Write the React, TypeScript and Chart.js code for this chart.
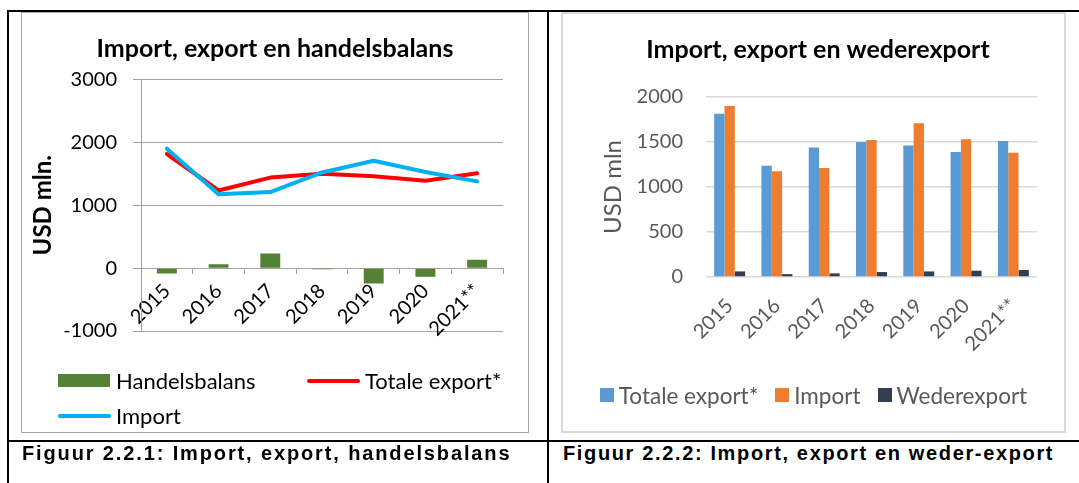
import React, { useEffect, useRef } from "react";
import { Chart, registerables } from "chart.js";

Chart.register(...registerables);

// ---- data ----
const years = ["2015", "2016", "2017", "2018", "2019", "2020", "2021**"];
const totaleExport = [1815, 1235, 1440, 1500, 1460, 1390, 1510];
const importValues = [1900, 1175, 1210, 1522, 1708, 1530, 1380];
const handelsbalans = [-85, 60, 232, -18, -245, -138, 135];
const wederexport = [62, 32, 40, 55, 62, 70, 78];

const leftYRange = [-1000, 3000];
const leftYStep = 1000;
const rightYRange = [0, 2000];
const rightYStep = 500;

const seriesNames = ["Handelsbalans", "Totale export*", "Import", "Wederexport"];
const leftTitle = "Import, export en handelsbalans";
const rightTitle = "Import, export en wederexport";
const leftAxisTitle = "USD mln.";
const rightAxisTitle = "USD mln";
const leftCaption = "Figuur 2.2.1: Import, export, handelsbalans";
const rightCaption = "Figuur 2.2.2: Import, export en weder-export";

// ---- styles ----
const FONT = "Lato, 'Open Sans', sans-serif";
const GREEN = "#548235";
const RED = "#ff0000";
const CYAN = "#00b0f0";
const BLUE = "#5b9bd5";
const ORANGE = "#ed7d31";
const DARK = "#333f50";

const plainNumber = (v: any) => String(v);

function LeftChart() {
  const ref = useRef<HTMLCanvasElement>(null);
  useEffect(() => {
    const chart = new Chart(ref.current as HTMLCanvasElement, {
      type: "bar",
      data: {
        labels: years,
        datasets: [
          {
            type: "line",
            label: seriesNames[2],
            data: importValues,
            borderColor: CYAN,
            backgroundColor: CYAN,
            borderWidth: 4,
            pointRadius: 0,
            tension: 0,
            borderJoinStyle: "round",
            borderCapStyle: "round",
            order: 0,
          },
          {
            type: "line",
            label: seriesNames[1],
            data: totaleExport,
            borderColor: RED,
            backgroundColor: RED,
            borderWidth: 4,
            pointRadius: 0,
            tension: 0,
            borderJoinStyle: "round",
            borderCapStyle: "round",
            order: 1,
          },
          {
            type: "bar",
            label: seriesNames[0],
            data: handelsbalans,
            backgroundColor: GREEN,
            categoryPercentage: 0.385,
            barPercentage: 1,
            order: 2,
          },
        ] as any,
      },
      options: {
        responsive: false,
        animation: false,
        layout: { padding: { left: 25, right: 25, top: 0, bottom: 101 } },
        plugins: {
          legend: { display: false },
          tooltip: { enabled: false },
          title: {
            display: true,
            text: leftTitle,
            color: "#000",
            font: { family: FONT, size: 25, weight: "bold" },
            padding: { top: 22, bottom: 15.5 },
          },
        },
        scales: {
          x: {
            position: { y: 0 } as any,
            offset: true,
            grid: {
              display: true,
              drawOnChartArea: false,
              drawTicks: true,
              tickLength: 5,
              color: "#a0a0a0",
              offset: true,
            },
            border: { display: true, color: "#a0a0a0" },
            ticks: {
              color: "#000",
              font: { family: FONT, size: 20 },
              minRotation: 45,
              maxRotation: 45,
              autoSkip: false,
              padding: 6,
            },
          },
          y: {
            min: leftYRange[0],
            max: leftYRange[1],
            ticks: {
              stepSize: leftYStep,
              color: "#000",
              font: { family: FONT, size: 20 },
              padding: 16,
              callback: plainNumber,
            },
            grid: { color: "#a0a0a0", tickLength: 8 },
            border: { display: true, color: "#a0a0a0" },
            title: {
              display: true,
              text: leftAxisTitle,
              color: "#000",
              font: { family: FONT, size: 24, weight: "bold" },
              padding: { top: -18.4, bottom: 0 },
            },
            afterFit: (scale: any) => {
              scale.width = 94;
            },
          },
        },
      },
    } as any);
    return () => chart.destroy();
  }, []);
  return (
    <canvas
      ref={ref}
      width={506}
      height={420}
      style={{ position: "absolute", left: 22, top: 12, width: 506, height: 420 }}
    />
  );
}

function RightChart() {
  const ref = useRef<HTMLCanvasElement>(null);
  useEffect(() => {
    const chart = new Chart(ref.current as HTMLCanvasElement, {
      type: "bar",
      data: {
        labels: years,
        datasets: [
          { label: seriesNames[1], data: totaleExport, backgroundColor: BLUE },
          { label: seriesNames[2], data: importValues, backgroundColor: ORANGE },
          { label: seriesNames[3], data: wederexport, backgroundColor: DARK },
        ],
      },
      options: {
        responsive: false,
        animation: false,
        datasets: { bar: { categoryPercentage: 0.655, barPercentage: 1 } },
        layout: { padding: { left: 36, right: 27, top: 0, bottom: 74 } },
        plugins: {
          legend: { display: false },
          tooltip: { enabled: false },
          title: {
            display: true,
            text: rightTitle,
            color: "#000",
            font: { family: FONT, size: 25, weight: "bold" },
            padding: { top: 22, bottom: 32 },
          },
        },
        scales: {
          x: {
            grid: { display: false },
            border: { display: false },
            ticks: {
              color: "#595959",
              font: { family: FONT, size: 20 },
              minRotation: 45,
              maxRotation: 45,
              autoSkip: false,
              padding: 9,
            },
            afterFit: (scale: any) => {
              scale.height = 80;
            },
          },
          y: {
            min: rightYRange[0],
            max: rightYRange[1],
            ticks: {
              stepSize: rightYStep,
              color: "#595959",
              font: { family: FONT, size: 20 },
              padding: 23,
              callback: plainNumber,
            },
            grid: { color: "#d9d9d9", lineWidth: 1.5, drawTicks: false },
            border: { display: false },
            title: {
              display: true,
              text: rightAxisTitle,
              color: "#595959",
              font: { family: FONT, size: 24 },
              padding: { top: -0.4, bottom: 0 },
            },
            afterFit: (scale: any) => {
              scale.width = 107;
            },
          },
        },
      },
    } as any);
    return () => chart.destroy();
  }, []);
  return (
    <canvas
      ref={ref}
      width={501}
      height={418}
      style={{ position: "absolute", left: 563, top: 13, width: 501, height: 418 }}
    />
  );
}

function Marker({ kind, color }: { kind: "rect" | "line" | "square"; color: string }) {
  if (kind === "rect")
    return <span style={{ display: "inline-block", width: 52, height: 13, background: color, marginRight: 6 }} />;
  if (kind === "line")
    return (
      <span
        style={{
          display: "inline-block",
          width: 53,
          height: 4,
          borderRadius: 2,
          background: color,
          marginRight: 5,
        }}
      />
    );
  return <span style={{ display: "inline-block", width: 14, height: 14, background: color, marginRight: 5 }} />;
}

export default function App() {
  const leftLegend = [
    { name: seriesNames[0], kind: "rect" as const, color: GREEN },
    { name: seriesNames[1], kind: "line" as const, color: RED },
    { name: seriesNames[2], kind: "line" as const, color: CYAN },
  ];
  const rightLegend = [
    { name: seriesNames[1], color: BLUE },
    { name: seriesNames[2], color: ORANGE },
    { name: seriesNames[3], color: DARK },
  ];
  const captionStyle: React.CSSProperties = {
    position: "absolute",
    top: 443,
    fontFamily: "'Liberation Sans', Arial, sans-serif",
    fontWeight: "bold",
    fontSize: 20,
    lineHeight: "20px",
    whiteSpace: "nowrap",
    color: "#000",
  };
  return (
    <div
      style={{
        position: "absolute",
        left: 0,
        top: 0,
        width: 1079,
        height: 483,
        background: "#fff",
        overflow: "hidden",
      }}
    >
      {/* chart frames */}
      <div
        style={{
          position: "absolute",
          left: 21,
          top: 12,
          width: 506,
          height: 419,
          border: "1px solid #a6a6a6",
        }}
      />
      <div
        style={{
          position: "absolute",
          left: 561,
          top: 12,
          width: 501,
          height: 417,
          border: "2px solid #d9d9d9",
        }}
      />
      <LeftChart />
      <RightChart />

      {/* left legend */}
      <div
        style={{
          position: "absolute",
          left: 58,
          top: 363,
          display: "grid",
          gridTemplateColumns: "249px auto",
          gridAutoRows: "35px",
          fontFamily: FONT,
          fontSize: 22,
          color: "#000",
        }}
      >
        {leftLegend.map((it) => (
          <div key={it.name} style={{ display: "flex", alignItems: "center", whiteSpace: "nowrap" }}>
            <Marker kind={it.kind} color={it.color} />
            <span>{it.name}</span>
          </div>
        ))}
      </div>

      {/* right legend */}
      <div
        style={{
          position: "absolute",
          left: 563,
          top: 383,
          width: 501,
          height: 24,
          display: "flex",
          justifyContent: "center",
          alignItems: "center",
          gap: 17,
          fontFamily: FONT,
          fontSize: 22.5,
          color: "#595959",
        }}
      >
        {rightLegend.map((it) => (
          <div key={it.name} style={{ display: "flex", alignItems: "center", whiteSpace: "nowrap" }}>
            <Marker kind="square" color={it.color} />
            <span>{it.name}</span>
          </div>
        ))}
      </div>

      {/* table lines */}
      <div style={{ position: "absolute", left: 7, top: 10, width: 1072, height: 2, background: "#000" }} />
      <div style={{ position: "absolute", left: 7, top: 10, width: 2, height: 473, background: "#000" }} />
      <div style={{ position: "absolute", left: 547, top: 10, width: 2, height: 473, background: "#000" }} />
      <div style={{ position: "absolute", left: 7, top: 440, width: 1072, height: 2, background: "#000" }} />

      {/* captions */}
      <div style={{ ...captionStyle, left: 22, letterSpacing: 1.87 }}>{leftCaption}</div>
      <div style={{ ...captionStyle, left: 563, letterSpacing: 1.64 }}>{rightCaption}</div>
    </div>
  );
}
